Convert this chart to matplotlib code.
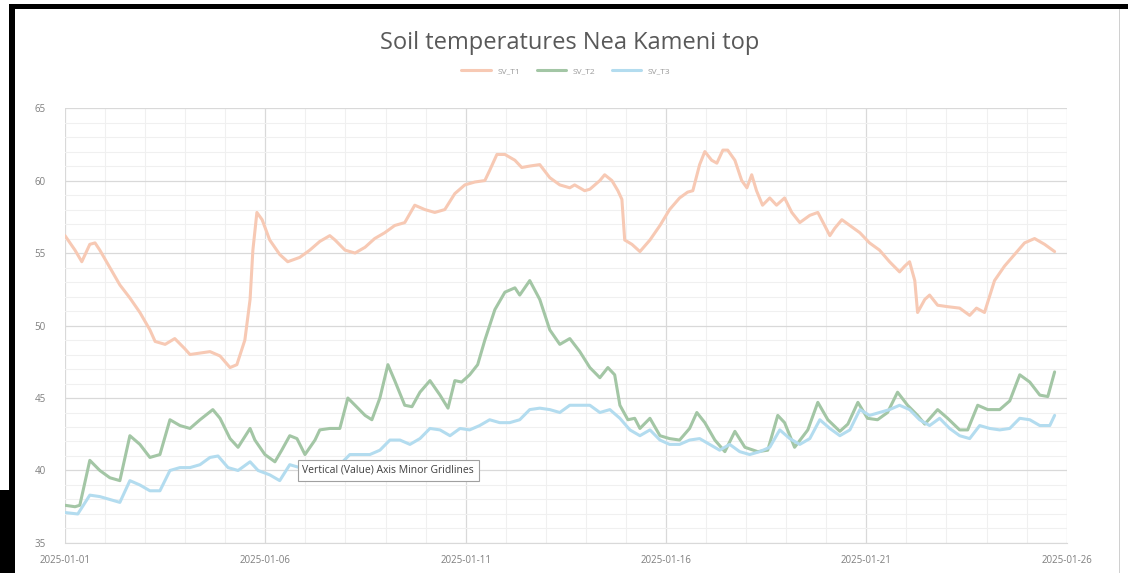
import matplotlib.pyplot as plt
import matplotlib.dates as mdates
import matplotlib.patches as mpatches
import pandas as pd

# Soil temperatures, days since 2025-01-01 00:00
start = pd.Timestamp("2025-01-01")

t1_days = [0.0, 0.25, 0.42, 0.62, 0.75, 0.87, 1.12, 1.37, 1.62, 1.87, 2.12, 2.25, 2.5, 2.74,
           2.99, 3.12, 3.37, 3.62, 3.87, 4.12, 4.29, 4.49, 4.62, 4.69, 4.79, 4.92, 5.11, 5.36,
           5.56, 5.86, 6.11, 6.36, 6.61, 6.74, 6.99, 7.24, 7.49, 7.73, 7.98, 8.23, 8.48, 8.73,
           8.98, 9.23, 9.48, 9.73, 9.98, 10.23, 10.48, 10.6, 10.78, 10.98, 11.23, 11.4, 11.6,
           11.85, 12.1, 12.35, 12.6, 12.72, 12.97, 13.1, 13.35, 13.47, 13.65, 13.8, 13.9, 13.97,
           14.15, 14.35, 14.6, 14.85, 15.09, 15.34, 15.54, 15.67, 15.84, 15.97, 16.14, 16.27,
           16.42, 16.54, 16.72, 16.89, 17.02, 17.14, 17.26, 17.41, 17.59, 17.76, 17.96, 18.14,
           18.34, 18.59, 18.79, 18.96, 19.09, 19.21, 19.39, 19.59, 19.84, 20.08, 20.33, 20.58,
           20.83, 20.96, 21.08, 21.21, 21.28, 21.46, 21.58, 21.78, 22.03, 22.33, 22.58, 22.75,
           22.95, 23.2, 23.45, 23.7, 23.95, 24.2, 24.45, 24.7]
t1_vals = [56.2, 55.2, 54.4, 55.6, 55.7, 55.2, 54.0, 52.8, 51.9, 50.9, 49.7, 48.9, 48.7, 49.1,
           48.4, 48.0, 48.1, 48.2, 47.9, 47.1, 47.3, 49.0, 51.8, 55.2, 57.8, 57.3, 55.9, 54.9,
           54.4, 54.7, 55.2, 55.8, 56.2, 55.9, 55.2, 55.0, 55.4, 56.0, 56.4, 56.9, 57.1, 58.3,
           58.0, 57.8, 58.0, 59.1, 59.7, 59.9, 60.0, 60.7, 61.8, 61.8, 61.4, 60.9, 61.0, 61.1,
           60.2, 59.7, 59.5, 59.7, 59.3, 59.4, 60.0, 60.4, 60.0, 59.3, 58.7, 55.9, 55.6, 55.1,
           55.9, 56.9, 58.0, 58.8, 59.2, 59.3, 61.1, 62.0, 61.4, 61.2, 62.1, 62.1, 61.4, 60.0,
           59.5, 60.4, 59.3, 58.3, 58.8, 58.3, 58.8, 57.8, 57.1, 57.6, 57.8, 56.9, 56.2, 56.7,
           57.3, 56.9, 56.4, 55.7, 55.2, 54.4, 53.7, 54.1, 54.4, 53.1, 50.9, 51.8, 52.1, 51.4,
           51.3, 51.2, 50.7, 51.2, 50.9, 53.1, 54.1, 54.9, 55.7, 56.0, 55.6, 55.1]

t2_days = [0.0, 0.25, 0.37, 0.62, 0.87, 1.12, 1.37, 1.62, 1.87, 2.12, 2.37, 2.62, 2.87, 3.12,
           3.37, 3.69, 3.87, 4.12, 4.32, 4.62, 4.74, 4.99, 5.24, 5.41, 5.61, 5.79, 5.99, 6.24,
           6.36, 6.61, 6.86, 7.06, 7.24, 7.49, 7.66, 7.86, 8.06, 8.23, 8.48, 8.66, 8.86, 9.11,
           9.36, 9.56, 9.73, 9.9, 10.1, 10.3, 10.48, 10.73, 10.98, 11.23, 11.35, 11.6, 11.85,
           12.1, 12.35, 12.6, 12.85, 13.1, 13.35, 13.55, 13.72, 13.85, 14.05, 14.22, 14.35, 14.6,
           14.85, 15.09, 15.34, 15.59, 15.77, 15.97, 16.22, 16.47, 16.72, 16.97, 17.29, 17.54,
           17.79, 17.96, 18.21, 18.54, 18.79, 19.04, 19.34, 19.54, 19.79, 20.03, 20.28, 20.53,
           20.78, 21.03, 21.28, 21.46, 21.78, 22.03, 22.33, 22.53, 22.78, 23.03, 23.33, 23.58,
           23.83, 24.08, 24.33, 24.53, 24.7]
t2_vals = [37.6, 37.5, 37.6, 40.7, 40.0, 39.5, 39.3, 42.4, 41.8, 40.9, 41.1, 43.5, 43.1, 42.9,
           43.5, 44.2, 43.6, 42.2, 41.6, 42.9, 42.1, 41.1, 40.6, 41.4, 42.4, 42.2, 41.1, 42.1,
           42.8, 42.9, 42.9, 45.0, 44.5, 43.8, 43.5, 45.0, 47.3, 46.2, 44.5, 44.4, 45.4, 46.2,
           45.2, 44.3, 46.2, 46.1, 46.6, 47.3, 49.0, 51.1, 52.3, 52.6, 52.1, 53.1, 51.8, 49.7,
           48.7, 49.1, 48.2, 47.1, 46.4, 47.1, 46.6, 44.5, 43.5, 43.6, 42.9, 43.6, 42.4, 42.2,
           42.1, 42.9, 44.0, 43.3, 42.1, 41.3, 42.7, 41.6, 41.3, 41.4, 43.8, 43.3, 41.6, 42.8,
           44.7, 43.5, 42.7, 43.2, 44.7, 43.6, 43.5, 44.0, 45.4, 44.5, 43.8, 43.2, 44.2, 43.6,
           42.8, 42.8, 44.5, 44.2, 44.2, 44.8, 46.6, 46.1, 45.2, 45.1, 46.8]

t3_days = [0.0, 0.32, 0.62, 0.87, 1.12, 1.37, 1.62, 1.87, 2.12, 2.37, 2.62, 2.87, 3.12, 3.37,
           3.62, 3.82, 4.07, 4.32, 4.62, 4.82, 5.11, 5.36, 5.61, 5.86, 6.11, 6.36, 6.61, 6.86,
           7.11, 7.36, 7.61, 7.86, 8.11, 8.36, 8.61, 8.86, 9.11, 9.36, 9.61, 9.86, 10.1, 10.35,
           10.6, 10.85, 11.1, 11.35, 11.6, 11.85, 12.1, 12.35, 12.6, 12.85, 13.1, 13.35, 13.6,
           13.85, 14.1, 14.35, 14.6, 14.85, 15.09, 15.34, 15.59, 15.84, 16.09, 16.34, 16.59,
           16.84, 17.09, 17.34, 17.59, 17.84, 18.09, 18.34, 18.59, 18.84, 19.09, 19.34, 19.59,
           19.84, 20.08, 20.33, 20.58, 20.83, 21.08, 21.33, 21.58, 21.83, 22.08, 22.33, 22.58,
           22.83, 23.08, 23.33, 23.58, 23.83, 24.08, 24.33, 24.58, 24.7]
t3_vals = [37.1, 37.0, 38.3, 38.2, 38.0, 37.8, 39.3, 39.0, 38.6, 38.6, 40.0, 40.2, 40.2, 40.4,
           40.9, 41.0, 40.2, 40.0, 40.6, 40.0, 39.7, 39.3, 40.4, 40.2, 40.0, 40.0, 39.5, 40.4,
           41.1, 41.1, 41.1, 41.4, 42.1, 42.1, 41.8, 42.2, 42.9, 42.8, 42.4, 42.9, 42.8, 43.1,
           43.5, 43.3, 43.3, 43.5, 44.2, 44.3, 44.2, 44.0, 44.5, 44.5, 44.5, 44.0, 44.2, 43.6,
           42.8, 42.4, 42.8, 42.1, 41.8, 41.8, 42.1, 42.2, 41.8, 41.4, 41.8, 41.3, 41.1, 41.3,
           41.6, 42.8, 42.2, 41.8, 42.2, 43.5, 42.9, 42.4, 42.8, 44.2, 43.8, 44.0, 44.2, 44.5,
           44.2, 43.5, 43.1, 43.6, 42.9, 42.4, 42.2, 43.1, 42.9, 42.8, 42.9, 43.6, 43.5, 43.1,
           43.1, 43.8]

series_names = ["SV_T1", "SV_T2", "SV_T3"]
colors = ["#f7c9b4", "#a3c6a5", "#b3dcef"]

title = "Soil temperatures Nea Kameni top"


def to_dates(days):
    return start + pd.to_timedelta(days, unit="D")


fig = plt.figure(figsize=(11.28, 5.73), dpi=100)
plt.rcParams["font.family"] = ["Open Sans", "DejaVu Sans"]

# screenshot frame bits around the chart
fig.patches.append(mpatches.Rectangle((0.0, 0.0), 1.0, 1.0, transform=fig.transFigure,
                                      facecolor="white", edgecolor="none", zorder=-5))
fig.patches.append(mpatches.Rectangle((0.008, 0.985), 0.992, 0.008, transform=fig.transFigure,
                                      facecolor="black", edgecolor="none", zorder=5))
fig.patches.append(mpatches.Rectangle((0.008, 0.0), 0.005, 0.993, transform=fig.transFigure,
                                      facecolor="black", edgecolor="none", zorder=5))
fig.patches.append(mpatches.Rectangle((0.0, 0.0), 0.013, 0.145, transform=fig.transFigure,
                                      facecolor="black", edgecolor="none", zorder=5))
fig.patches.append(mpatches.Rectangle((0.992, 0.0), 0.001, 0.985, transform=fig.transFigure,
                                      facecolor="#d0d0d0", edgecolor="none", zorder=5))

ax = fig.add_axes([0.0576, 0.0524, 0.888, 0.759])

all_days = [t1_days, t2_days, t3_days]
all_vals = [t1_vals, t2_vals, t3_vals]
for days, vals, name, c in zip(all_days, all_vals, series_names, colors):
    ax.plot(to_dates(days), vals, color=c, lw=2.2, label=name,
            solid_joinstyle="round", solid_capstyle="round")

ax.set_xlim(pd.Timestamp("2025-01-01"), pd.Timestamp("2025-01-26"))
ax.set_ylim(35, 65)
ax.xaxis.set_major_locator(mdates.DayLocator(bymonthday=[1, 6, 11, 16, 21, 26]))
ax.xaxis.set_minor_locator(mdates.DayLocator())
ax.xaxis.set_major_formatter(mdates.DateFormatter("%Y-%m-%d"))
ax.yaxis.set_major_locator(plt.MultipleLocator(5))
ax.yaxis.set_minor_locator(plt.MultipleLocator(1))

ax.grid(which="major", color="#d9d9d9", lw=0.9)
ax.grid(which="minor", color="#f0f0f0", lw=0.8)
ax.set_axisbelow(True)
for s in ["top", "right", "left"]:
    ax.spines[s].set_visible(False)
ax.spines["bottom"].set_color("#d9d9d9")
ax.tick_params(which="both", length=0, colors="#7f7f7f", labelsize=7)
ax.tick_params(axis="x", pad=9)
ax.tick_params(axis="y", pad=14)

fig.text(0.505, 0.925, title, ha="center", va="center", fontsize=17, color="#595959")
ax.legend(loc="center", bbox_to_anchor=(0.5, 1.085), ncol=3, frameon=False,
          fontsize=6, labelcolor="#9a9a9a", handlelength=3.5, columnspacing=2.0)

# Excel hover tooltip
ax.text(0.237, 0.167, "Vertical (Value) Axis Minor Gridlines", transform=ax.transAxes,
        fontsize=7.5, color="#404040", ha="left", va="center",
        bbox=dict(boxstyle="square,pad=0.45", facecolor="white", edgecolor="#a0a0a0", lw=0.8))

plt.savefig("out.png", dpi=100)
